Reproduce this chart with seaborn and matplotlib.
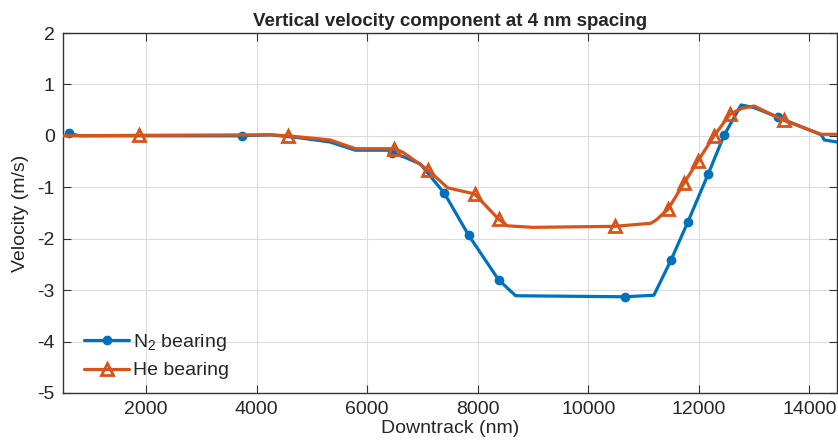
import matplotlib
matplotlib.use("Agg")
import matplotlib.pyplot as plt
from matplotlib.lines import Line2D
import numpy as np
import seaborn as sns
import pandas as pd

# datos (Downtrack en nm, velocidad en m/s)
n2_x = [605, 800, 3740, 4250, 4790, 5330, 5790, 6420, 6458, 6690, 6966, 7400, 7835,
        8379, 8687, 10663, 11188, 11496, 11804, 12167, 12457, 12765, 13000, 13435,
        14215, 14270, 14500]
n2_y = [0.05, 0.0, 0.0, 0.02, -0.04, -0.12, -0.28, -0.28, -0.33, -0.42, -0.55, -1.12, -1.93,
        -2.80, -3.11, -3.13, -3.10, -2.42, -1.67, -0.75, 0.01, 0.60, 0.55, 0.36,
        0.02, -0.08, -0.12]
n2_markers = [0, 2, 8, 11, 12, 13, 15, 17, 18, 19, 20, 23]

he_x = [500, 1873, 4250, 4573, 5330, 5790, 6420, 6494, 6650, 7110, 7455, 7944, 8379, 8540,
        9000, 10481, 11134, 11225, 11442, 11732, 11985, 12275, 12566, 12766, 13000,
        13544, 14215, 14500]
he_y = [0.0, 0.01, 0.02, 0.0, -0.08, -0.25, -0.25, -0.25, -0.32, -0.67, -1.01, -1.13, -1.62, -1.75,
        -1.78, -1.76, -1.70, -1.64, -1.43, -0.92, -0.49, 0.0, 0.42, 0.53, 0.58,
        0.30, 0.03, 0.03]
he_markers = [1, 3, 7, 9, 11, 12, 15, 18, 19, 20, 21, 22, 25]

x_ticks = [2000, 4000, 6000, 8000, 10000, 12000, 14000]
y_ticks = [-5, -4, -3, -2, -1, 0, 1, 2]

azul = "#0072BD"
naranja = "#D95319"

sns.set_style("ticks")
plt.rcParams['font.family'] = ['Liberation Sans', 'DejaVu Sans']
plt.rcParams['mathtext.fontset'] = 'custom'
plt.rcParams['mathtext.rm'] = 'Liberation Sans'
plt.rcParams['axes.unicode_minus'] = False

fig = plt.figure(figsize=(8.38, 4.4), dpi=100)
ax = fig.add_axes([0.0752, 0.107, 0.9236, 0.818])

df_n2 = pd.DataFrame({"x": n2_x, "y": n2_y})
df_he = pd.DataFrame({"x": he_x, "y": he_y})

sns.lineplot(data=df_n2, x="x", y="y", ax=ax, color=azul, lw=2.3, sort=False, zorder=3)
sns.lineplot(data=df_n2.iloc[n2_markers], x="x", y="y", ax=ax, color=azul, lw=0,
             marker="o", markersize=7, markeredgewidth=0, sort=False, zorder=4)
sns.lineplot(data=df_he, x="x", y="y", ax=ax, color=naranja, lw=2.3, sort=False, zorder=5)
sns.lineplot(data=df_he.iloc[he_markers], x="x", y="y", ax=ax, color=naranja, lw=0,
             marker="^", markersize=9, markerfacecolor="none", markeredgecolor=naranja,
             markeredgewidth=2, sort=False, zorder=6)

ax.set_xlim(500, 14500)
ax.set_ylim(-5, 2)
ax.set_xticks(x_ticks)
ax.set_yticks(y_ticks)
ax.grid(True, color="#dcdcdc", lw=0.8)
ax.set_axisbelow(True)
ax.tick_params(direction="in", top=True, right=True, labelsize=14, length=6,
               color="#333333", labelcolor="#262626", pad=6)
for s in ax.spines.values():
    s.set_visible(True)
    s.set_color("#333333")
    s.set_linewidth(1.0)

ax.set_title("Vertical velocity component at 4 nm spacing", fontsize=13.5,
             fontweight="bold", color="#262626", pad=5)
ax.set_xlabel("Downtrack (nm)", fontsize=14, color="#262626", labelpad=1)
ax.set_ylabel("Velocity (m/s)", fontsize=14, color="#262626", labelpad=6)

handles = [
    Line2D([], [], color=azul, lw=2.3, marker="o", markersize=7, markeredgewidth=0),
    Line2D([], [], color=naranja, lw=2.3, marker="^", markersize=9,
           markerfacecolor="none", markeredgewidth=2),
]
ax.legend(handles, ["N$_2$ bearing", "He bearing"], loc="lower left", frameon=False,
          fontsize=14, handlelength=2.3, handletextpad=0.2, labelspacing=0.45,
          borderaxespad=0.3, bbox_to_anchor=(0.01, 0.0))

fig.savefig("out.png", dpi=100)
